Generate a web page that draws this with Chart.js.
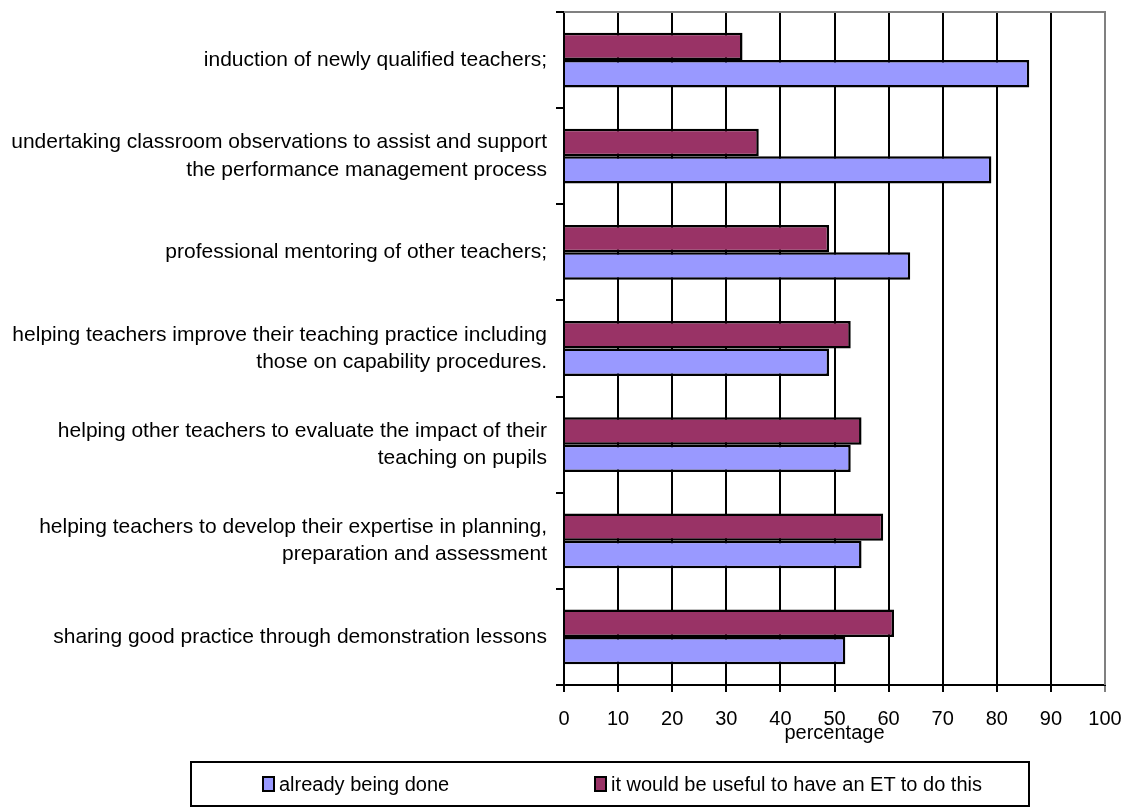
<!DOCTYPE html>
<html>
<head>
<meta charset="utf-8">
<script src="https://cdn.jsdelivr.net/npm/chart.js@4/dist/chart.umd.min.js"></script>
<style>
  body { margin: 0; background: #fff; }
  #wrap { position: relative; width: 1126px; height: 808px; }
  #legend {
    position: absolute; left: 190px; top: 761px; width: 840px; height: 46px;
    border: 2px solid #000; box-sizing: border-box;
    font: 20px "Liberation Sans", Arial, sans-serif; color: #000;
  }
  #legend .item { position: absolute; top: 10px; white-space: nowrap; }
  #legend .sw {
    display: inline-block; width: 9px; height: 12px; border: 2px solid #000;
    margin-right: 4px; vertical-align: -1px;
  }
</style>
</head>
<body>
<div id="wrap">
  <canvas id="myChart" width="1126" height="808"></canvas>
  <div id="legend">
    <span class="item" style="left:70px"><span class="sw" style="background:#9999ff"></span>already being done</span>
    <span class="item" style="left:402px"><span class="sw" style="background:#993366"></span>it would be useful to have an ET to do this</span>
  </div>
</div>
<script>
var categories = [
  ["induction of newly qualified teachers;"],
  ["undertaking classroom observations to assist and support", "the performance management process"],
  ["professional mentoring of other teachers;"],
  ["helping teachers improve their teaching practice including", "those on capability procedures."],
  ["helping other teachers to evaluate the impact of their", "teaching on pupils"],
  ["helping teachers to develop their expertise in planning,", "preparation and assessment"],
  ["sharing good practice through demonstration lessons"]
];
var alreadyDone = [86, 79, 64, 49, 53, 55, 52];
var usefulET = [33, 36, 49, 53, 55, 59, 61];
var xTicks = [0, 10, 20, 30, 40, 50, 60, 70, 80, 90, 100];

var fontFam = '"Liberation Sans", Arial, sans-serif';

// gray top and right frame of the plot area
var framePlugin = {
  id: 'frame',
  afterDraw: function (chart) {
    var a = chart.chartArea, c = chart.ctx;
    c.save();
    c.strokeStyle = '#808080';
    c.lineWidth = 2;
    c.beginPath();
    c.moveTo(a.left, a.top);
    c.lineTo(a.right, a.top);
    c.lineTo(a.right, a.bottom);
    c.stroke();
    c.restore();
  }
};

var ctx = document.getElementById("myChart").getContext('2d');
var myChart = new Chart(ctx, {
  type: 'bar',
  data: {
    labels: categories,
    datasets: [{
      label: 'it would be useful to have an ET to do this',
      data: usefulET,
      backgroundColor: "#993366",
      borderColor: "#000",
      borderWidth: 2.5,
      categoryPercentage: 0.57,
      barPercentage: 1.0
    }, {
      label: 'already being done',
      data: alreadyDone,
      backgroundColor: "#9999ff",
      borderColor: "#000",
      borderWidth: 2.5,
      categoryPercentage: 0.57,
      barPercentage: 1.0
    }]
  },
  options: {
    indexAxis: 'y',
    responsive: false,
    animation: false,
    layout: { padding: { top: 12, right: 21, bottom: 63, left: 0 } },
    plugins: {
      legend: { display: false },
      tooltip: { enabled: false }
    },
    scales: {
      x: {
        min: 0, max: 100,
        afterBuildTicks: function (s) { s.ticks = xTicks.map(function (v) { return { value: v }; }); },
        afterFit: function (s) { s.height = 60; s.paddingLeft = 0; s.paddingRight = 0; },
        ticks: { color: '#000', font: { family: fontFam, size: 20 }, padding: 15, maxRotation: 0 },
        grid: {
          color: function (c) { return c.tick && c.tick.value === 100 ? '#808080' : '#000'; },
          lineWidth: 2, tickLength: 7
        },
        border: { color: '#000', width: 2 },
        title: { display: true, text: 'percentage', color: '#000', font: { family: fontFam, size: 20 }, padding: 0 }
      },
      y: {
        afterFit: function (s) { s.width = 564; s.paddingTop = 0; s.paddingBottom = 0; },
        ticks: { color: '#000', font: { family: fontFam, size: 21, lineHeight: 1.3 }, padding: 9 },
        grid: { drawOnChartArea: false, color: '#000', lineWidth: 2, tickLength: 8, offset: true },
        border: { color: '#000', width: 2 }
      }
    }
  },
  plugins: [framePlugin]
});
</script>
</body>
</html>
